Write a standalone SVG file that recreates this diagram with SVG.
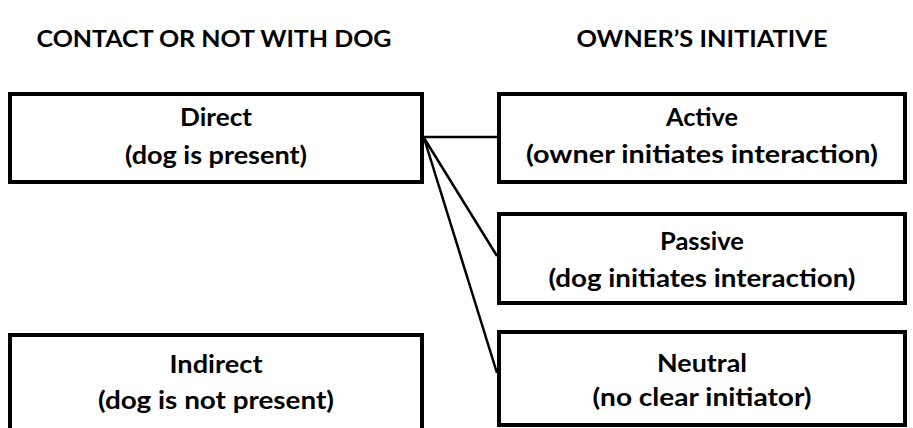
<svg xmlns="http://www.w3.org/2000/svg" width="913" height="428" viewBox="0 0 913 428">
<style>
.box{fill:#fff;stroke:#000;stroke-width:4}
.t{font-family:Lato,"Open Sans","Liberation Sans",sans-serif;font-weight:bold;font-size:25px;fill:#000;text-anchor:middle}
.h{font-family:Lato,"Open Sans","Liberation Sans",sans-serif;font-weight:bold;font-size:23px;fill:#000;text-anchor:middle}
.c{stroke:#000;stroke-width:2.5;fill:none}
</style>
<rect width="913" height="428" fill="#fff"/>
<text class="h" x="214" y="47" textLength="355" lengthAdjust="spacingAndGlyphs">CONTACT OR NOT WITH DOG</text>
<text class="h" x="702" y="47" textLength="251" lengthAdjust="spacingAndGlyphs">OWNER’S INITIATIVE</text>
<g id="connectors">
<line class="c" x1="424" y1="137" x2="497" y2="137"/>
<line class="c" x1="424" y1="138" x2="497" y2="256"/>
<line class="c" x1="424" y1="138" x2="497" y2="373"/>
</g>
<g id="direct">
<rect class="box" x="10" y="94" width="412" height="88"/>
<text class="t" x="216" y="126" textLength="72" lengthAdjust="spacingAndGlyphs">Direct</text>
<text class="t" x="216" y="164" textLength="182" lengthAdjust="spacingAndGlyphs">(dog is present)</text>
</g>
<g id="indirect">
<rect class="box" x="10" y="335" width="412" height="100"/>
<text class="t" x="216" y="373" textLength="93" lengthAdjust="spacingAndGlyphs">Indirect</text>
<text class="t" x="216" y="409" textLength="236" lengthAdjust="spacingAndGlyphs">(dog is not present)</text>
</g>
<g id="active">
<rect class="box" x="499" y="94" width="406" height="88"/>
<text class="t" x="702" y="126" textLength="72" lengthAdjust="spacingAndGlyphs">Active</text>
<text class="t" x="702" y="163" textLength="352" lengthAdjust="spacingAndGlyphs">(owner initiates interaction)</text>
</g>
<g id="passive">
<rect class="box" x="499" y="214" width="406" height="89"/>
<text class="t" x="702" y="250" textLength="84" lengthAdjust="spacingAndGlyphs">Passive</text>
<text class="t" x="702" y="287" textLength="307" lengthAdjust="spacingAndGlyphs">(dog initiates interaction)</text>
</g>
<g id="neutral">
<rect class="box" x="499" y="332" width="406" height="93"/>
<text class="t" x="702" y="372" textLength="90" lengthAdjust="spacingAndGlyphs">Neutral</text>
<text class="t" x="702" y="406" textLength="219" lengthAdjust="spacingAndGlyphs">(no clear initiator)</text>
</g>
</svg>
